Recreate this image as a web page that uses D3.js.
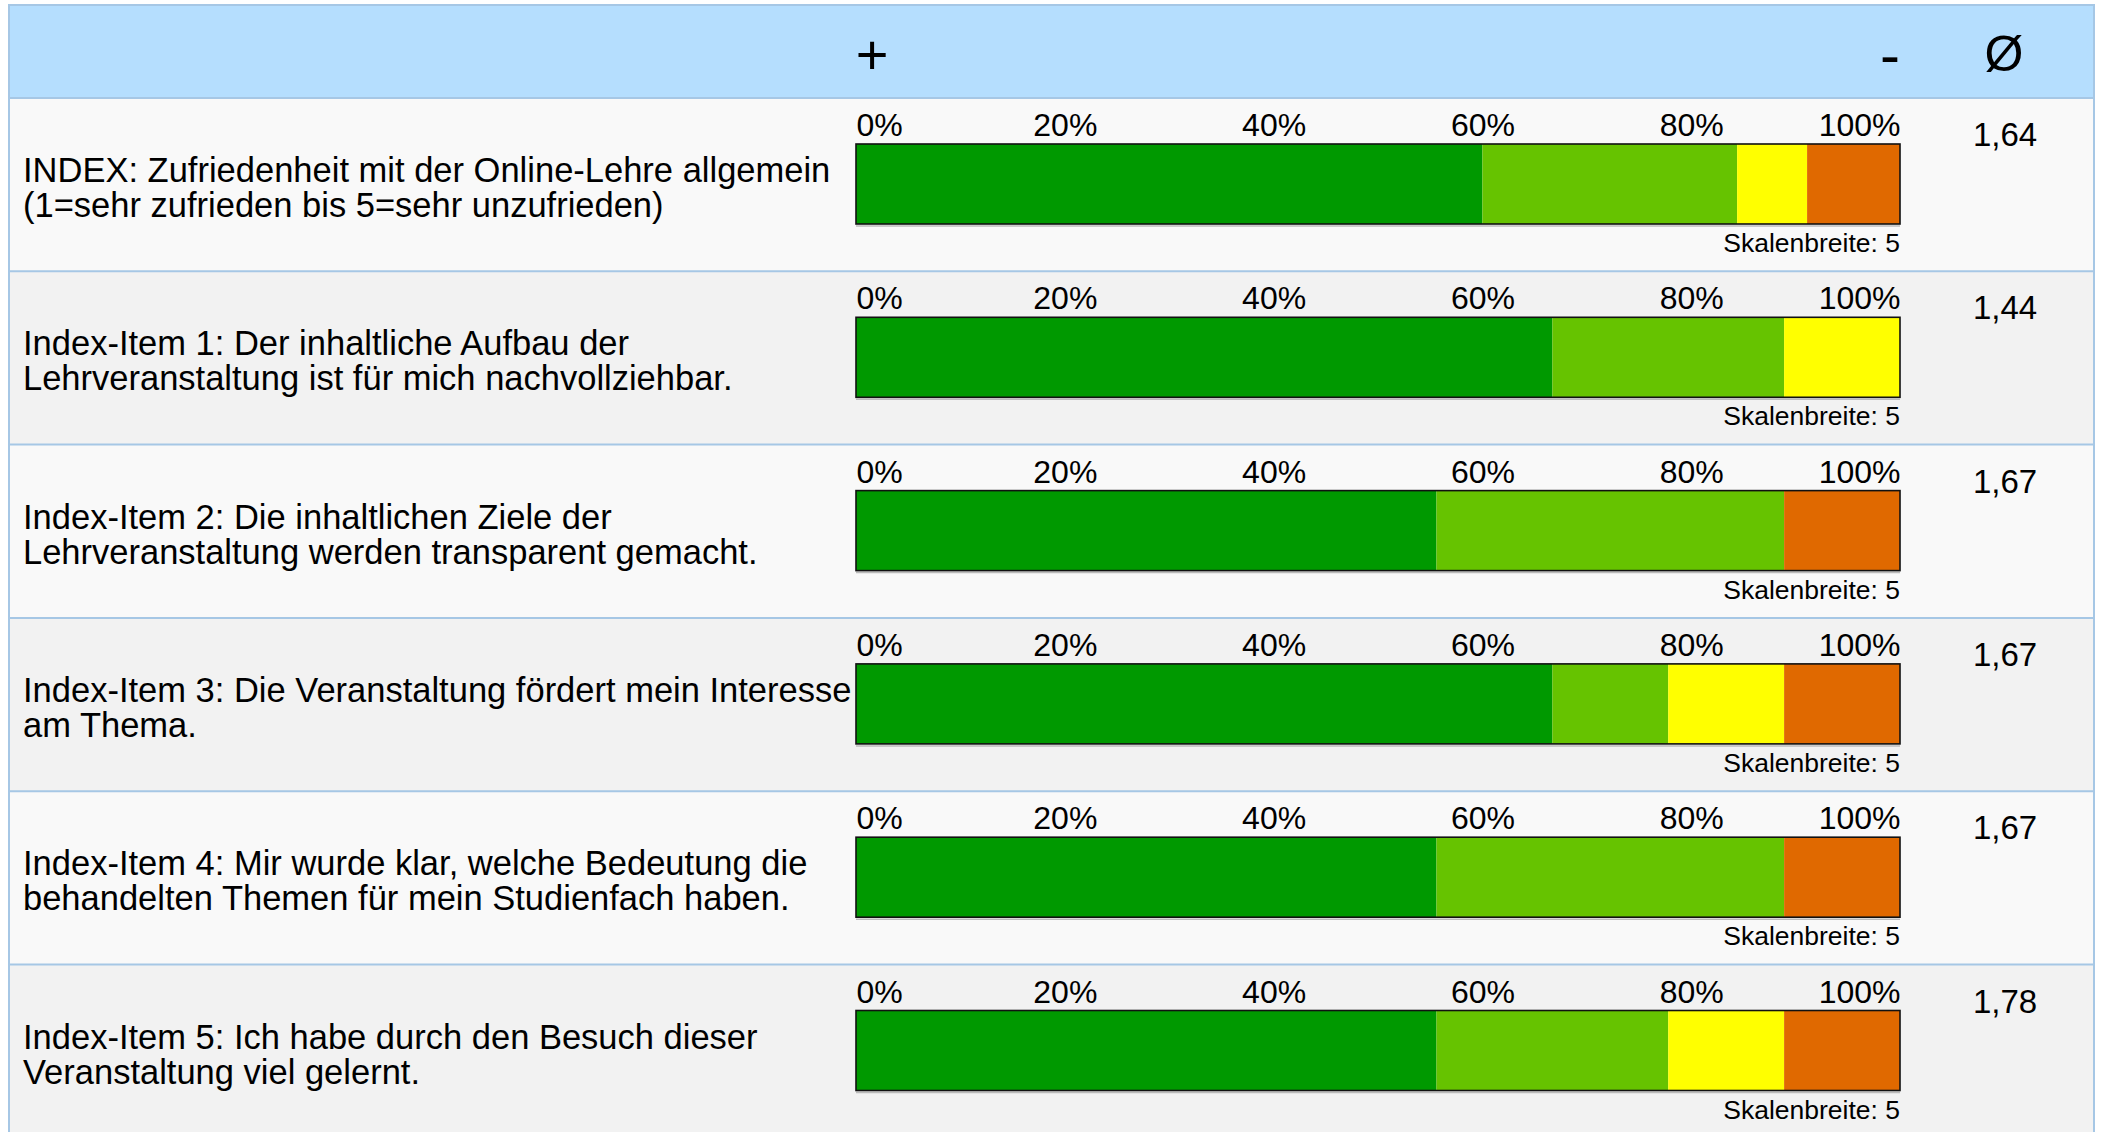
<!DOCTYPE html>
<html>
<head>
<meta charset="utf-8">
<script src="https://cdn.jsdelivr.net/npm/d3@7"></script>
<style>
  html, body { margin: 0; padding: 0; background: #ffffff; }
  svg { display: block; font-family: "Liberation Sans", Arial, Helvetica, sans-serif; }
</style>
</head>
<body>
<script>
// Survey items (each label split into its two printed lines)
const itemLines = [
  ["INDEX: Zufriedenheit mit der Online-Lehre allgemein", "(1=sehr zufrieden bis 5=sehr unzufrieden)"],
  ["Index-Item 1: Der inhaltliche Aufbau der", "Lehrveranstaltung ist für mich nachvollziehbar."],
  ["Index-Item 2: Die inhaltlichen Ziele der", "Lehrveranstaltung werden transparent gemacht."],
  ["Index-Item 3: Die Veranstaltung fördert mein Interesse", "am Thema."],
  ["Index-Item 4: Mir wurde klar, welche Bedeutung die", "behandelten Themen für mein Studienfach haben."],
  ["Index-Item 5: Ich habe durch den Besuch dieser", "Veranstaltung viel gelernt."]
];

// Answer share per scale point (1 = sehr zufrieden ... 5 = sehr unzufrieden), in percent
const share1 = [60.0, 66.7, 55.6, 66.7, 55.6, 55.6];
const share2 = [24.4, 22.2, 33.3, 11.1, 33.3, 22.2];
const share3 = [6.7, 11.1, 0, 11.1, 0, 11.1];
const share4 = [8.9, 0, 11.1, 11.1, 11.1, 11.1];
const share5 = [0, 0, 0, 0, 0, 0];

// Mean value per item
const means = [1.64, 1.44, 1.67, 1.67, 1.67, 1.78];

// Axis ticks and scale width
const tickValues = [0, 20, 40, 60, 80, 100];
const scaleWidth = 5;

const scaleColors = ["#009900", "#66c300", "#ffff00", "#e06900", "#c00000"];

const W = 2101, H = 1132;
const svg = d3.select("body").append("svg")
  .attr("width", W).attr("height", H);

// Table frame
const left = 9, right = 2094;
const headTop = 5, headBottom = 98;
const rowH = 173.3;
const border = "#a6c7e5";

// Header row
svg.append("rect")
  .attr("x", left).attr("y", headTop)
  .attr("width", right - left).attr("height", headBottom - headTop)
  .attr("fill", "#b5defe");

const x = d3.scaleLinear().domain([0, 100]).range([856, 1900]);

svg.append("text").attr("x", 872).attr("y", 54).attr("dy", "0.35em")
  .attr("text-anchor", "middle").attr("font-size", 56).attr("fill", "#000").text("+");
svg.append("text").attr("x", 1890).attr("y", 54).attr("dy", "0.35em")
  .attr("text-anchor", "middle").attr("font-size", 60).attr("fill", "#000").text("-");
svg.append("text").attr("x", 2004).attr("y", 53).attr("dy", "0.35em")
  .attr("text-anchor", "middle").attr("font-size", 50).attr("fill", "#000").text("Ø");

// Build stacked segments per item
const rows = itemLines.map((lines, i) => {
  const vals = [share1[i], share2[i], share3[i], share4[i], share5[i]];
  let acc = 0;
  const segs = vals.map((v, k) => {
    const s = { k, x0: acc, x1: acc + v };
    acc += v;
    return s;
  }).filter(s => s.x1 - s.x0 > 0);
  // last segment closes the bar at 100 %
  segs[segs.length - 1].x1 = 100;
  return { lines, segs, mean: means[i] };
});

const rowG = svg.selectAll("g.row").data(rows).enter().append("g")
  .attr("class", "row")
  .attr("transform", (d, i) => `translate(0,${headBottom + i * rowH})`);

rowG.append("rect")
  .attr("x", left).attr("y", 0)
  .attr("width", right - left).attr("height", rowH)
  .attr("fill", (d, i) => i % 2 === 0 ? "#f9f9f9" : "#f2f2f2");

rowG.append("line")
  .attr("x1", left).attr("x2", right).attr("y1", 0).attr("y2", 0)
  .attr("stroke", border).attr("stroke-width", 2);

// Item label
rowG.append("text")
  .attr("x", 23).attr("y", 84)
  .attr("font-size", 34.5).attr("fill", "#000")
  .selectAll("tspan").data(d => d.lines).enter().append("tspan")
  .attr("x", 23).attr("dy", (d, j) => j === 0 ? 0 : 35)
  .text(d => d);

// Percentage axis above each bar
rowG.append("g")
  .attr("transform", "translate(0,38)")
  .each(function () {
    const g = d3.select(this).call(
      d3.axisTop(x).tickValues(tickValues).tickSize(0).tickPadding(0).tickFormat(d => d + "%")
    );
    g.select(".domain").remove();
    g.selectAll("text")
      .attr("font-size", 32).attr("font-family", null).attr("fill", "#000").attr("dy", 0)
      .attr("text-anchor", d => d === 0 ? "start" : d === 100 ? "end" : "middle");
  });

// Stacked bar
const barTop = 46, barH = 80;
rowG.selectAll("rect.seg").data(d => d.segs).enter().append("rect")
  .attr("class", "seg")
  .attr("x", s => x(s.x0)).attr("y", barTop)
  .attr("width", s => x(s.x1) - x(s.x0)).attr("height", barH)
  .attr("fill", s => scaleColors[s.k]);

rowG.append("line")
  .attr("x1", x(0)).attr("x2", x(100)).attr("y1", barTop + barH + 2).attr("y2", barTop + barH + 2)
  .attr("stroke", "#bbbbbb").attr("stroke-width", 1.5);

rowG.append("rect")
  .attr("x", x(0)).attr("y", barTop)
  .attr("width", x(100) - x(0)).attr("height", barH)
  .attr("fill", "none").attr("stroke", "#111").attr("stroke-width", 1.6);

rowG.append("text")
  .attr("x", x(100)).attr("y", 154)
  .attr("text-anchor", "end").attr("font-size", 26.5).attr("fill", "#000")
  .text("Skalenbreite: " + scaleWidth);

// Mean value
rowG.append("text")
  .attr("x", 2005).attr("y", 48)
  .attr("text-anchor", "middle").attr("font-size", 33).attr("fill", "#000")
  .text(d => d.mean.toFixed(2).replace(".", ","));

// Outer frame
svg.append("rect")
  .attr("x", left).attr("y", headTop)
  .attr("width", right - left).attr("height", H + 10)
  .attr("fill", "none").attr("stroke", border).attr("stroke-width", 2);
</script>
</body>
</html>
